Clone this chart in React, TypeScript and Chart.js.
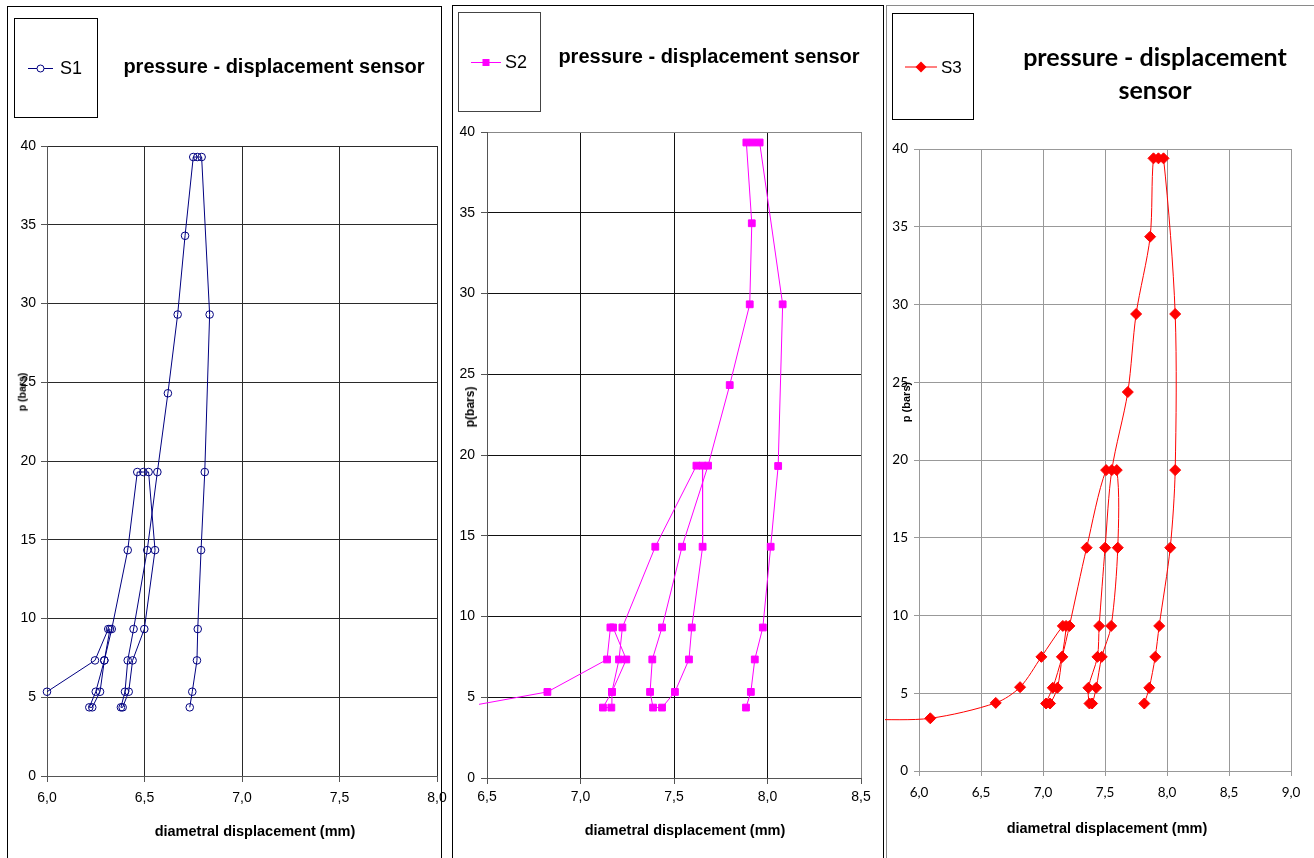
import React, { useEffect, useRef } from "react";
import { Chart, registerables } from "chart.js";
Chart.register(...registerables);

const PAGE_W = 1314;
const PAGE_H = 858;

// ---- S1 (pressure bar vs diametral displacement mm), in measurement order
const s1Disp = [6.0, 6.246, 6.314, 6.323, 6.294, 6.25, 6.217, 6.232, 6.272, 6.294, 6.332, 6.414, 6.463, 6.494, 6.521, 6.554, 6.499, 6.439, 6.419, 6.388, 6.379, 6.4, 6.414, 6.444, 6.514, 6.566, 6.62, 6.67, 6.708, 6.75, 6.771, 6.793, 6.834, 6.809, 6.79, 6.773, 6.769, 6.745, 6.732];
const s1Pres = [5.35, 7.34, 9.33, 9.33, 7.34, 5.35, 4.36, 4.36, 5.35, 7.34, 9.33, 14.34, 19.3, 19.3, 19.3, 14.34, 9.33, 7.34, 5.35, 4.36, 4.36, 5.35, 7.34, 9.33, 14.34, 19.3, 24.3, 29.3, 34.3, 39.3, 39.3, 39.3, 29.3, 19.3, 14.34, 9.33, 7.34, 5.35, 4.36];

// ---- S2
const s2Disp = [6.0, 6.823, 7.142, 7.16, 7.174, 7.245, 7.168, 7.12, 7.165, 7.168, 7.206, 7.224, 7.4, 7.62, 7.652, 7.653, 7.595, 7.58, 7.505, 7.436, 7.388, 7.372, 7.384, 7.436, 7.543, 7.682, 7.798, 7.905, 7.916, 7.887, 7.922, 7.958, 8.081, 8.057, 8.017, 7.975, 7.932, 7.911, 7.885];
const s2Pres = [3.6, 5.33, 7.34, 9.32, 9.32, 7.34, 5.33, 4.36, 4.36, 5.33, 7.34, 9.32, 14.32, 19.34, 19.34, 14.32, 9.32, 7.34, 5.33, 4.36, 4.36, 5.33, 7.34, 9.32, 14.32, 19.34, 24.33, 29.33, 34.35, 39.35, 39.35, 39.35, 29.33, 19.32, 14.32, 9.32, 7.34, 5.33, 4.36];

// ---- S3
const s3Disp = [5.6, 6.091, 6.619, 6.815, 6.987, 7.16, 7.186, 7.154, 7.116, 7.057, 7.025, 7.079, 7.154, 7.213, 7.352, 7.509, 7.595, 7.603, 7.55, 7.474, 7.429, 7.396, 7.375, 7.366, 7.439, 7.453, 7.501, 7.555, 7.684, 7.751, 7.864, 7.891, 7.931, 7.972, 8.066, 8.066, 8.026, 7.937, 7.905, 7.857, 7.817];
const s3Pres = [3.3, 3.39, 4.38, 5.39, 7.34, 9.33, 9.33, 7.34, 5.35, 4.34, 4.34, 5.35, 7.34, 9.33, 14.36, 19.35, 19.35, 14.36, 9.33, 7.34, 5.35, 4.34, 4.34, 5.35, 7.34, 9.33, 14.36, 19.35, 24.37, 29.39, 34.36, 39.4, 39.4, 39.4, 29.39, 19.35, 14.36, 9.33, 7.34, 5.35, 4.34];

// ---- ticks
const pressureTicks = [0, 5, 10, 15, 20, 25, 30, 35, 40];
const pressureTickLabels = ["0", "5", "10", "15", "20", "25", "30", "35", "40"];
const dispTicks1 = [6.0, 6.5, 7.0, 7.5, 8.0];
const dispTickLabels1 = ["6,0", "6,5", "7,0", "7,5", "8,0"];
const dispTicks2 = [6.5, 7.0, 7.5, 8.0, 8.5];
const dispTickLabels2 = ["6,5", "7,0", "7,5", "8,0", "8,5"];
const dispTicks3 = [6.0, 6.5, 7.0, 7.5, 8.0, 8.5, 9.0];
const dispTickLabels3 = ["6,0", "6,5", "7,0", "7,5", "8,0", "8,5", "9,0"];

const chartTitle = "pressure - displacement sensor";
const chartTitle3 = ["pressure - displacement", "sensor"];
const xAxisTitle = "diametral displacement (mm)";
const yAxisTitle1 = "p (bars)";
const yAxisTitle2 = "p(bars)";
const yAxisTitle3 = "p (bars)";
const seriesNames = ["S1", "S2", "S3"];

const ARIAL = '"Liberation Sans", Arial, sans-serif';
const CALIBRI = 'Lato, "Open Sans", sans-serif';

type PanelProps = {
  name: string;
  left: number;
  width: number;
  plot: { l: number; r: number; t: number; b: number };
  xs: number[];
  ys: number[];
  xTicks: number[];
  xLabels: string[];
  color: string;
  pointStyle: any;
  pointRadius: number;
  filled: boolean;
  tension: number;
  gridColor: string;
  edgeColor: string;
  axisColor: string;
  tickFont: { family: string; size: number };
  xTick: { len: number; pad: number };
  yTick: { len: number; pad: number };
  clipLeft: number;
};

function ChartPanel(p: PanelProps) {
  const ref = useRef<HTMLCanvasElement | null>(null);
  useEffect(() => {
    const canvas = ref.current;
    if (!canvas) return;
    const YW = 30;
    const xMin = p.xTicks[0];
    const xMax = p.xTicks[p.xTicks.length - 1];
    const yMax = pressureTicks[pressureTicks.length - 1];
    const chart = new Chart(canvas, {
      type: "scatter",
      data: {
        datasets: [
          {
            label: p.name,
            data: p.xs.map((x, i) => ({ x, y: p.ys[i] })),
            showLine: true,
            borderColor: p.color,
            backgroundColor: p.color,
            borderWidth: 1,
            pointStyle: p.pointStyle,
            pointRadius: p.pointRadius,
            pointHoverRadius: p.pointRadius,
            pointBackgroundColor: p.filled ? p.color : "rgba(0,0,0,0)",
            pointBorderColor: p.color,
            pointBorderWidth: 1,
            tension: p.tension,
            clip: { left: p.clipLeft, top: 6, right: 6, bottom: 0 },
          } as any,
        ],
      },
      options: {
        responsive: false,
        animation: false,
        events: [],
        layout: {
          padding: {
            left: p.plot.l - p.left - YW,
            right: p.left + p.width - p.plot.r,
            top: p.plot.t,
            bottom: 0,
          },
        },
        plugins: {
          legend: { display: false },
          tooltip: { enabled: false },
          title: { display: false },
        },
        scales: {
          x: {
            type: "linear",
            position: "bottom",
            min: xMin,
            max: xMax,
            afterFit: (s: any) => {
              s.height = PAGE_H - p.plot.b;
            },
            afterBuildTicks: (s: any) => {
              s.ticks = p.xTicks.map((v) => ({ value: v }));
            },
            ticks: {
              callback: (_v: any, i: number) => p.xLabels[i],
              color: "#000",
              font: p.tickFont,
              padding: p.xTick.pad,
              maxRotation: 0,
              autoSkip: false,
            },
            grid: {
              color: (c: any) => (c.tick && Math.abs(c.tick.value - xMax) < 1e-9 ? p.edgeColor : p.gridColor),
              tickColor: p.axisColor,
              tickLength: p.xTick.len,
              lineWidth: 1,
            },
            border: { color: p.axisColor, width: 1 },
          },
          y: {
            type: "linear",
            position: "left",
            min: 0,
            max: yMax,
            afterFit: (s: any) => {
              s.width = YW;
            },
            afterBuildTicks: (s: any) => {
              s.ticks = pressureTicks.map((v) => ({ value: v }));
            },
            ticks: {
              callback: (_v: any, i: number) => pressureTickLabels[i],
              color: "#000",
              font: p.tickFont,
              padding: p.yTick.pad,
              autoSkip: false,
            },
            grid: {
              color: (c: any) => (c.tick && c.tick.value === yMax ? p.edgeColor : p.gridColor),
              tickColor: p.axisColor,
              tickLength: p.yTick.len,
              lineWidth: 1,
            },
            border: { color: p.axisColor, width: 1 },
          },
        },
      } as any,
    });
    return () => chart.destroy();
  }, []);
  return (
    <canvas
      ref={ref}
      width={p.width}
      height={PAGE_H}
      style={{ position: "absolute", left: p.left, top: 0, width: p.width, height: PAGE_H }}
    />
  );
}

function Txt(props: {
  x: number;
  y: number;
  children: React.ReactNode;
  start?: boolean;
  rotate?: boolean;
  style?: React.CSSProperties;
}) {
  const tx = props.start ? "0" : "-50%";
  return (
    <div
      style={{
        position: "absolute",
        left: props.x,
        top: props.y,
        transform: `translate(${tx}, -50%)${props.rotate ? " rotate(-90deg)" : ""}`,
        whiteSpace: "nowrap",
        lineHeight: 1,
        color: "#000",
        fontFamily: ARIAL,
        ...props.style,
      }}
    >
      {props.children}
    </div>
  );
}

function Box(props: { x: number; y: number; w: number; h: number; color: string }) {
  return (
    <div
      style={{
        position: "absolute",
        left: props.x,
        top: props.y,
        width: props.w,
        height: props.h,
        border: `1px solid ${props.color}`,
        boxSizing: "border-box",
        background: "#fff",
      }}
    />
  );
}

export default function App() {
  return (
    <div
      style={{
        position: "absolute",
        left: 0,
        top: 0,
        width: PAGE_W,
        height: PAGE_H,
        overflow: "hidden",
        background: "#fff",
      }}
    >
      {/* panel frames */}
      <Box x={7} y={6} w={435} h={900} color="#000" />
      <Box x={452} y={5} w={432} h={900} color="#000" />
      <Box x={886} y={5} w={440} h={900} color="#8a8a8a" />

      {/* legend boxes */}
      <Box x={14} y={18} w={84} h={100} color="#000" />
      <Box x={458} y={12} w={83} h={100} color="#444" />
      <Box x={892} y={13} w={82} h={107} color="#000" />

      <ChartPanel
        name={seriesNames[0]}
        left={0}
        width={470}
        plot={{ l: 47, r: 437, t: 146, b: 776 }}
        xs={s1Disp}
        ys={s1Pres}
        xTicks={dispTicks1}
        xLabels={dispTickLabels1}
        color="#000080"
        pointStyle="circle"
        pointRadius={3.8}
        filled={false}
        tension={0}
        gridColor="#2a2a2a"
        edgeColor="#2a2a2a"
        axisColor="#555"
        tickFont={{ family: ARIAL, size: 14 }}
        xTick={{ len: 6, pad: 8 }}
        yTick={{ len: 6, pad: 5 }}
        clipLeft={6}
      />
      <ChartPanel
        name={seriesNames[1]}
        left={445}
        width={440}
        plot={{ l: 487, r: 861, t: 132, b: 778 }}
        xs={s2Disp}
        ys={s2Pres}
        xTicks={dispTicks2}
        xLabels={dispTickLabels2}
        color="#ff00ff"
        pointStyle="rect"
        pointRadius={4.8}
        filled={true}
        tension={0}
        gridColor="#111"
        edgeColor="#888"
        axisColor="#555"
        tickFont={{ family: ARIAL, size: 14 }}
        xTick={{ len: 6, pad: 5 }}
        yTick={{ len: 6, pad: 6 }}
        clipLeft={8}
      />
      <ChartPanel
        name={seriesNames[2]}
        left={880}
        width={434}
        plot={{ l: 919, r: 1291, t: 149, b: 771 }}
        xs={s3Disp}
        ys={s3Pres}
        xTicks={dispTicks3}
        xLabels={dispTickLabels3}
        color="#ff0000"
        pointStyle="rectRot"
        pointRadius={5.5}
        filled={true}
        tension={0.3}
        gridColor="#999"
        edgeColor="#999"
        axisColor="#999"
        tickFont={{ family: CALIBRI, size: 13.5 }}
        xTick={{ len: 5, pad: 9 }}
        yTick={{ len: 5, pad: 6 }}
        clipLeft={34}
      />

      {/* chart titles */}
      <Txt x={274} y={66} style={{ fontSize: 20, fontWeight: 700 }}>{chartTitle}</Txt>
      <Txt x={709} y={56} style={{ fontSize: 20, fontWeight: 700 }}>{chartTitle}</Txt>
      <Txt x={1155} y={56} style={{ fontSize: 25, fontWeight: 700, fontFamily: CALIBRI }}>{chartTitle3[0]}</Txt>
      <Txt x={1155} y={89} style={{ fontSize: 25, fontWeight: 700, fontFamily: CALIBRI }}>{chartTitle3[1]}</Txt>

      {/* axis titles */}
      <Txt x={255} y={831} style={{ fontSize: 14.5, fontWeight: 700 }}>{xAxisTitle}</Txt>
      <Txt x={685} y={830} style={{ fontSize: 14.5, fontWeight: 700 }}>{xAxisTitle}</Txt>
      <Txt x={1107} y={828} style={{ fontSize: 14.5, fontWeight: 700 }}>{xAxisTitle}</Txt>
      <Txt x={22} y={392} rotate style={{ fontSize: 10.5, fontWeight: 700 }}>{yAxisTitle1}</Txt>
      <Txt x={470} y={407} rotate style={{ fontSize: 12, fontWeight: 700 }}>{yAxisTitle2}</Txt>
      <Txt x={906} y={402} rotate style={{ fontSize: 11, fontWeight: 700 }}>{yAxisTitle3}</Txt>

      {/* legend texts */}
      <Txt x={60} y={68} start style={{ fontSize: 18 }}>{seriesNames[0]}</Txt>
      <Txt x={505} y={62} start style={{ fontSize: 18 }}>{seriesNames[1]}</Txt>
      <Txt x={941} y={67} start style={{ fontSize: 17 }}>{seriesNames[2]}</Txt>

      {/* legend symbols */}
      <svg
        width={PAGE_W}
        height={PAGE_H}
        style={{ position: "absolute", left: 0, top: 0, pointerEvents: "none" }}
      >
        <line x1={28} y1={68.5} x2={53} y2={68.5} stroke="#000080" strokeWidth={1} />
        <circle cx={40.5} cy={68.5} r={3.5} fill="#fff" stroke="#000080" strokeWidth={1} />
        <line x1={471} y1={62.5} x2={501} y2={62.5} stroke="#ff00ff" strokeWidth={1} />
        <rect x={482.5} y={59} width={7} height={7} fill="#ff00ff" />
        <line x1={905} y1={67} x2={937} y2={67} stroke="#ff0000" strokeWidth={1} />
        <polygon points="921,61.5 926.5,67 921,72.5 915.5,67" fill="#ff0000" />
      </svg>
    </div>
  );
}
